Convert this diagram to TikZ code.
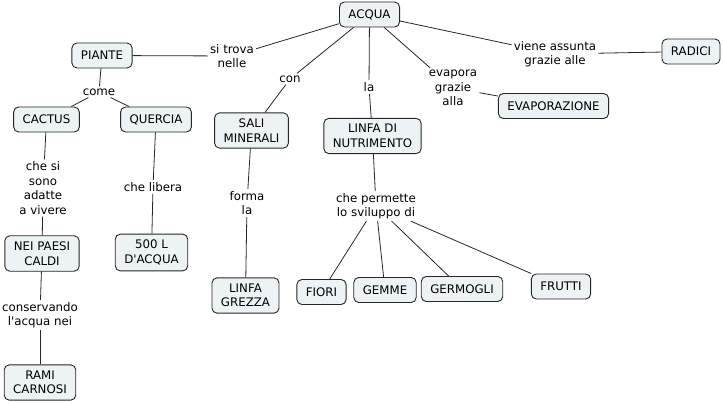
\documentclass[tikz,border=0pt]{standalone}
\usepackage{fontspec}
\setmainfont{DejaVu Sans}
\definecolor{conceptfill}{RGB}{237,242,245}
\tikzset{
  concept/.style={draw=black!85, line width=0.9pt, rounded corners=5pt, fill=conceptfill,
    align=center, inner xsep=9pt, inner ysep=6pt, minimum height=25pt},
  link/.style={align=center, inner sep=2pt}
}
\begin{document}
\begin{tikzpicture}[x=1pt,y=-1pt,font=\fontsize{11.8}{14.5}\selectfont]
      \useasboundingbox (0,0) rectangle (723,404);
      % concepts
      \draw
        (369.5,14.5) node[concept] (acqua){ACQUA}
        (102,55.5) node[concept] (piante){PIANTE}
        (691,51.5) node[concept] (radici){RADICI}
        (46.5,119.5) node[concept] (cactus){CACTUS}
        (156,119.5) node[concept] (quercia){QUERCIA}
        (251.5,130.5) node[concept] (sali){SALI\\MINERALI}
        (372.5,136) node[concept] (nutrimento){LINFA DI\\NUTRIMENTO}
        (553.5,106) node[concept] (evaporazione){EVAPORAZIONE}
        (42,253.5) node[concept] (paesi){NEI PAESI\\CALDI}
        (151.5,252.5) node[concept] (litri){500 L\\D\textquotesingle ACQUA}
        (245.5,295.5) node[concept] (grezza){LINFA\\GREZZA}
        (40,382.5) node[concept] (rami){RAMI\\CARNOSI}
        (321.5,292) node[concept] (fiori){FIORI}
        (385,290) node[concept] (gemme){GEMME}
        (462,289) node[concept] (germogli){GERMOGLI}
        (561,286.5) node[concept] (frutti){FRUTTI};
      % linking phrases
      \draw
        (232,56) node[link] (trova){si trova\\nelle}
        (99,92) node[link] (come){come}
        (290,79) node[link] (con){con}
        (369,87) node[link] (la){la}
        (453,88) node[link] (evapora){evapora\\grazie\\alla}
        (555,54) node[link] (assunta){viene assunta\\grazie alle}
        (43,188) node[link] (adatte){che si\\sono\\adatte\\a vivere}
        (153,187) node[link] (libera){che libera}
        (247,203) node[link] (forma){forma\\la}
        (40,315) node[link] (conservando){conservando\\l\textquotesingle acqua nei}
        (376,206) node[link] (permette){che permette\\lo sviluppo di};
      \begin{scope}[-, draw=black!85, line width=0.8pt]
        \draw (acqua) to (trova);
        \draw (trova) to (piante);
        \draw (acqua) to (con);
        \draw (con) to (sali);
        \draw (acqua) to (la);
        \draw (la) to (nutrimento);
        \draw (acqua) to (evapora);
        \draw (evapora) to (evaporazione);
        \draw (acqua) to (assunta);
        \draw (assunta) to (radici);
        \draw (piante) to (come);
        \draw (come) to (cactus);
        \draw (come) to (quercia);
        \draw (cactus) to (adatte);
        \draw (adatte) to (paesi);
        \draw (paesi) to (conservando);
        \draw (conservando) to (rami);
        \draw (quercia) to (libera);
        \draw (libera) to (litri);
        \draw (sali) to (forma);
        \draw (forma) to (grezza);
        \draw (nutrimento) to (permette);
        \draw (permette) to (fiori);
        \draw (permette) to (gemme);
        \draw (permette) to (germogli);
        \draw (permette) to (frutti);
      \end{scope}
    \end{tikzpicture}
\end{document}
